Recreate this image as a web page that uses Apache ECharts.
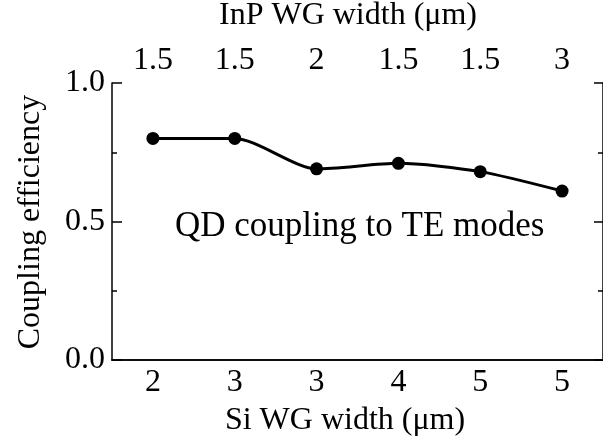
<!DOCTYPE html>
<html>
<head>
<meta charset="utf-8">
<script src="https://cdn.jsdelivr.net/npm/echarts@6/dist/echarts.min.js"></script>
<style>
  html, body { margin: 0; padding: 0; background: #fff; }
  #main { width: 603px; height: 441px; }
</style>
</head>
<body>
<div id="main"></div>
<script>
// bottom axis: Si WG width, top axis: InP WG width
var siWidths = ['2', '3', '3', '4', '5', '5'];
var inpWidths = ['1.5', '1.5', '2', '1.5', '1.5', '3'];
var efficiency = [0.80, 0.80, 0.69, 0.71, 0.68, 0.61];
var yTicks = [0, 0.5, 1.0];

var font = 'Liberation Serif';
var fs = 32;

var chart = echarts.init(document.getElementById('main'));

var option = {
  animation: false,
  grid: { left: 112, top: 83, width: 498, height: 277 },
  xAxis: [{
    type: 'category',
    position: 'bottom',
    data: siWidths,
    axisLine: { lineStyle: { color: '#000', width: 1.5 } },
    axisTick: { inside: true, alignWithLabel: true, length: 7, lineStyle: { color: '#000', width: 1.5 } },
    axisLabel: { color: '#000', fontFamily: font, fontSize: fs, margin: 7 }
  }, {
    type: 'category',
    position: 'top',
    data: inpWidths,
    axisLine: { lineStyle: { color: '#000', width: 1.5 } },
    axisTick: { inside: true, alignWithLabel: true, length: 7, lineStyle: { color: '#000', width: 1.5 } },
    axisLabel: { color: '#000', fontFamily: font, fontSize: fs, margin: 6 }
  }],
  yAxis: [{
    type: 'value',
    position: 'left',
    min: yTicks[0], max: yTicks[yTicks.length - 1], interval: 0.5,
    axisLine: { show: true, lineStyle: { color: '#000', width: 1.5 } },
    axisTick: { show: true, inside: true, length: 10, lineStyle: { color: '#000', width: 1.5 } },
    minorTick: { show: true, splitNumber: 2, length: 5, lineStyle: { color: '#000', width: 1.5 } },
    splitLine: { show: false },
    axisLabel: {
      color: '#000', fontFamily: font, fontSize: fs, margin: 7,
      formatter: function (v) { return v.toFixed(1); }
    }
  }, {
    type: 'value',
    position: 'right',
    min: 0, max: 1, interval: 0.5,
    axisLine: { show: true, lineStyle: { color: '#000', width: 1.5 } },
    axisTick: { show: true, inside: true, length: 9, lineStyle: { color: '#000', width: 1.5 } },
    minorTick: { show: true, splitNumber: 2, length: 5, lineStyle: { color: '#000', width: 1.5 } },
    splitLine: { show: false },
    axisLabel: { show: false }
  }],
  series: [{
    type: 'line',
    data: efficiency,
    smooth: 0.25,
    symbol: 'circle',
    symbolSize: 13,
    lineStyle: { color: '#000', width: 3 },
    itemStyle: { color: '#000' }
  }],
  graphic: [{
    type: 'text', x: 348, y: 16,
    style: { text: 'InP WG width (μm)', font: fs + 'px "' + font + '"', fill: '#000', align: 'center', verticalAlign: 'middle' }
  }, {
    type: 'text', x: 345, y: 421,
    style: { text: 'Si WG width (μm)', font: fs + 'px "' + font + '"', fill: '#000', align: 'center', verticalAlign: 'middle' }
  }, {
    type: 'text', x: 31, y: 222, rotation: Math.PI / 2,
    style: { text: 'Coupling efficiency', font: fs + 'px "' + font + '"', fill: '#000', align: 'center', verticalAlign: 'middle' }
  }, {
    type: 'text', x: 175, y: 227,
    style: { text: 'QD coupling to TE modes', font: '35px "' + font + '"', fill: '#000', align: 'left', verticalAlign: 'middle' }
  }]
};

chart.setOption(option);
</script>
</body>
</html>
